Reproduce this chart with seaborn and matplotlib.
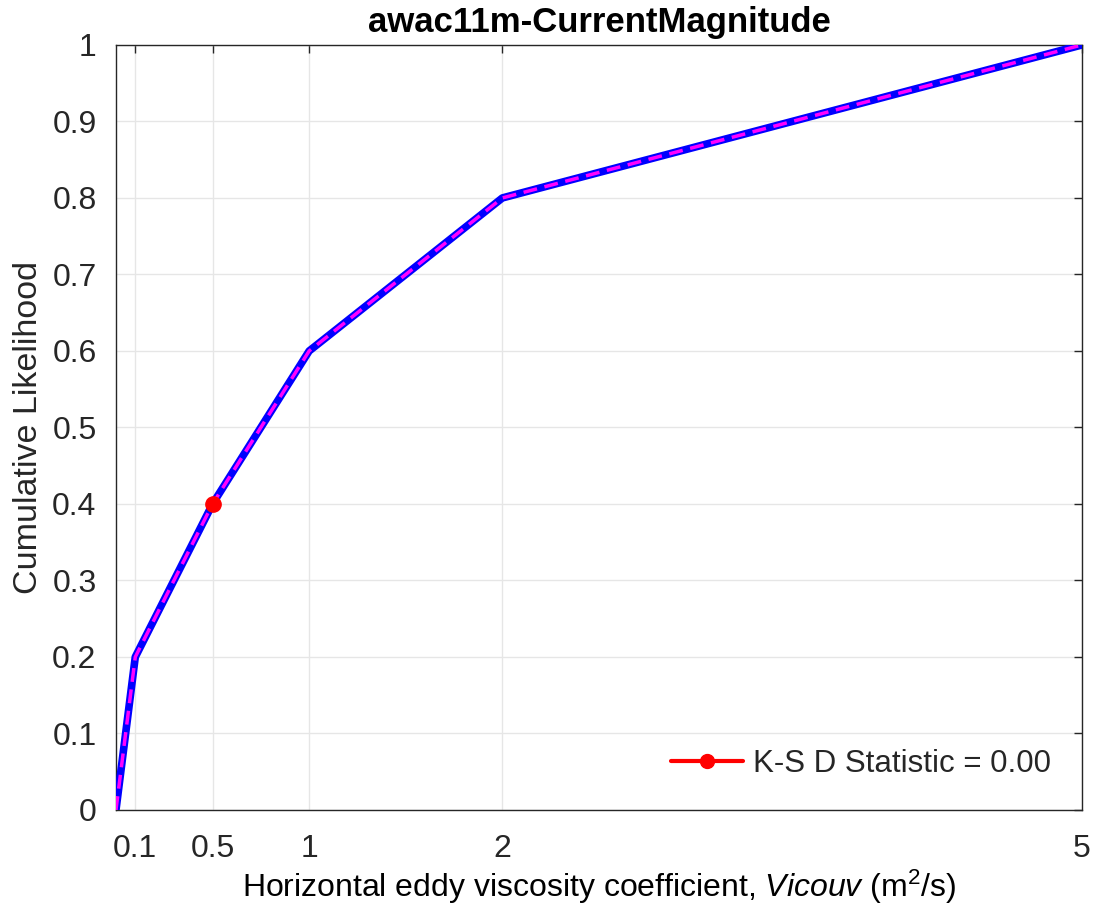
import matplotlib
matplotlib.use("Agg")
import matplotlib.pyplot as plt
from matplotlib.lines import Line2D
import seaborn as sns
import pandas as pd

# Data
vicouv = [0.0, 0.1, 0.5, 1.0, 2.0, 5.0]
cdf_model = [0.0, 0.2, 0.4, 0.6, 0.8, 1.0]
cdf_obs = [0.0, 0.2, 0.4, 0.6, 0.8, 1.0]
ks_x = [0.5]
ks_y = [0.4]
ks_stat = 0.00
x_ticks = [0.1, 0.5, 1, 2, 5]
y_ticks = [0, 0.1, 0.2, 0.3, 0.4, 0.5, 0.6, 0.7, 0.8, 0.9, 1]
title = "awac11m-CurrentMagnitude"

sns.set_style("white")
plt.rcParams['font.family'] = ['Liberation Sans', 'DejaVu Sans']
plt.rcParams['mathtext.fontset'] = 'custom'
plt.rcParams['mathtext.rm'] = 'Liberation Sans'
plt.rcParams['mathtext.it'] = 'Liberation Sans:italic'

df = pd.DataFrame({"x": vicouv, "model": cdf_model, "obs": cdf_obs})

fig = plt.figure(figsize=(10.94, 9.17), dpi=100)
ax = fig.add_axes([0.106, 0.1167, 0.883, 0.8343])

sns.lineplot(data=df, x="x", y="model", ax=ax, color="#0000ff", linewidth=5.5,
             estimator=None, sort=False, zorder=3)
sns.lineplot(data=df, x="x", y="obs", ax=ax, color="#ff00ff", linewidth=2.5,
             linestyle=(0, (4, 2.2)), estimator=None, sort=False, zorder=4)
ax.plot(ks_x, ks_y, color="#ff0000", marker="o", markersize=11, linestyle="-",
        linewidth=3, zorder=5)

ax.set_xlim(0, 5)
ax.set_ylim(0, 1)
ax.set_xticks(x_ticks)
ax.set_xticklabels([f"{t:g}" for t in x_ticks])
ax.set_yticks(y_ticks)
ax.set_yticklabels([f"{t:g}" for t in y_ticks])
ax.grid(True, color="#e6e6e6", linewidth=1)
ax.set_axisbelow(True)
for s in ax.spines.values():
    s.set_visible(True)
    s.set_color("#262626")
    s.set_linewidth(1)
ax.tick_params(direction="in", length=6, width=1, color="#262626",
               top=True, right=True, labelsize=23, labelcolor="#262626")
ax.tick_params(axis="x", pad=17)
ax.tick_params(axis="y", pad=14)

ax.set_title(title, fontsize=25, fontweight="bold", pad=9, color="black")
ax.set_xlabel(r"Horizontal eddy viscosity coefficient, $\it{Vicouv}$ (m$^{2}$/s)",
              fontsize=23, color="#000000", labelpad=3)
ax.set_ylabel("Cumulative Likelihood", fontsize=24.5, color="#262626", labelpad=6)

handle = Line2D([], [], color="#ff0000", marker="o", markersize=10, linewidth=3)
leg = ax.legend([handle], [f"K-S D Statistic = {ks_stat:.2f}"], loc="lower right",
                fontsize=22.5, frameon=True, handlelength=2.3, handletextpad=0.3,
                borderaxespad=0.6)
leg.get_frame().set_edgecolor("white")
leg.get_frame().set_facecolor("white")
leg.get_frame().set_alpha(1)

fig.savefig("out.png", dpi=100)
